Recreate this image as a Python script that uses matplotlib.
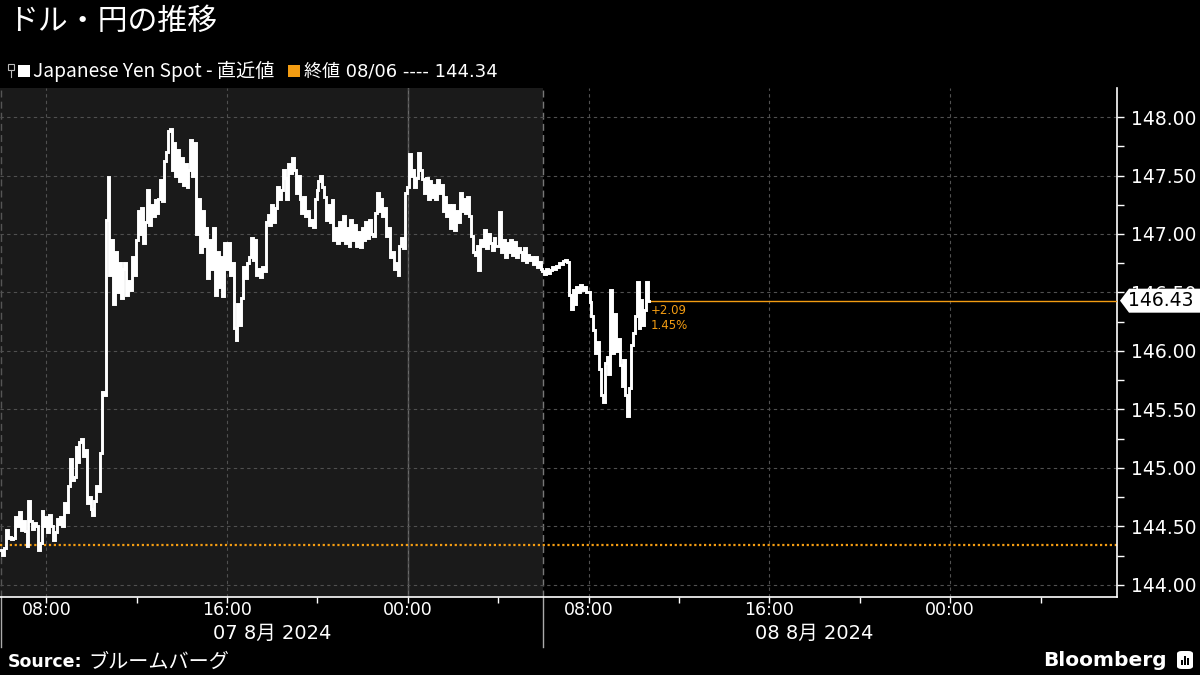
import pandas as pd
import matplotlib
matplotlib.use("Agg")
import matplotlib.pyplot as plt
import matplotlib.dates as mdates
import matplotlib.patches as mpatches
from matplotlib.ticker import MultipleLocator, FormatStrFormatter
from matplotlib.transforms import blended_transform_factory, IdentityTransform

# ── text ──────────────────────────────────────────────────────────────────────
TITLE = "ドル・円の推移"
SERIES_LABEL = "Japanese Yen Spot - 直近値"
CLOSE_LABEL = "終値 08/06 ---- 144.34"
SOURCE = "ブルームバーグ"
DAY_LABELS = ["07 8月 2024", "08 8月 2024"]
CHANGE_TEXT = "+2.09"
PCT_TEXT = "1.45%"

# ── data ──────────────────────────────────────────────────────────────────────
START = "2024-08-07 06:00"
FREQ = "5min"
PREV_CLOSE = 144.34
DAY_STARTS = ["2024-08-07 06:00", "2024-08-08 06:00"]
X_RANGE = ["2024-08-07 05:57", "2024-08-09 07:23"]

# 5-minute USD/JPY readings, one row per hour starting 06:00 on 7 Aug
YEN = [
    144.30, 144.26, 144.32, 144.47, 144.40, 144.41, 144.39, 144.40, 144.58, 144.50, 144.62, 144.47,
    144.55, 144.46, 144.33, 144.72, 144.55, 144.48, 144.53, 144.50, 144.30, 144.36, 144.63, 144.50,
    144.58, 144.45, 144.60, 144.50, 144.38, 144.45, 144.56, 144.52, 144.58, 144.50, 144.70, 144.62,
    144.85, 145.08, 144.90, 144.92, 145.18, 145.05, 145.22, 145.25, 145.10, 145.15, 144.70, 144.75,
    144.65, 144.60, 144.72, 144.85, 144.80, 145.13, 145.65, 145.62, 147.12, 147.49, 146.65, 146.95,
    146.40, 146.85, 146.50, 146.75, 146.45, 146.70, 146.75, 146.48, 146.60, 146.52, 146.80, 146.65,
    146.95, 147.20, 147.00, 147.22, 146.92, 147.10, 147.38, 147.08, 147.25, 147.15, 147.29, 147.18,
    147.30, 147.46, 147.28, 147.62, 147.70, 147.88, 147.90, 147.55, 147.78, 147.50, 147.72, 147.45,
    147.65, 147.42, 147.60, 147.40, 147.55, 147.80, 147.50, 147.78, 147.00, 147.30, 146.85, 147.20,
    146.90, 147.05, 146.62, 146.95, 146.70, 147.05, 146.48, 146.85, 146.55, 146.80, 146.47, 146.92,
    146.70, 146.92, 146.65, 146.75, 146.20, 146.09, 146.40, 146.22, 146.45, 146.72, 146.62, 146.75,
    146.80, 146.97, 146.78, 146.95, 146.65, 146.70, 146.63, 146.72, 146.68, 147.10, 147.16, 147.08,
    147.25, 147.10, 147.22, 147.40, 147.30, 147.38, 147.55, 147.48, 147.30, 147.60, 147.52, 147.65,
    147.55, 147.35, 147.50, 147.30, 147.18, 147.32, 147.15, 147.20, 147.08, 147.12, 147.06, 147.30,
    147.38, 147.45, 147.50, 147.40, 147.32, 147.12, 147.25, 147.10, 147.29, 146.95, 147.05, 146.92,
    147.10, 146.95, 147.15, 146.92, 147.05, 146.90, 147.12, 146.95, 147.08, 146.90, 147.02, 146.89,
    147.05, 146.95, 147.10, 146.97, 147.12, 147.00, 146.98, 147.18, 147.35, 147.20, 147.30, 147.15,
    147.22, 146.98, 147.05, 146.80, 146.85, 146.70, 146.75, 146.65, 146.90, 146.97, 146.88, 147.35,
    147.40, 147.68, 147.50, 147.55, 147.40, 147.48, 147.69, 147.55, 147.47, 147.35, 147.48, 147.30,
    147.45, 147.32, 147.42, 147.30, 147.46, 147.35, 147.42, 147.20, 147.32, 147.15, 147.25, 147.05,
    147.25, 147.03, 147.20, 147.10, 147.35, 147.20, 147.30, 147.18, 147.32, 147.15, 146.98, 146.85,
    146.82, 146.90, 146.69, 146.95, 146.90, 147.03, 146.88, 147.00, 146.92, 146.86, 146.97, 146.90,
    146.90, 147.19, 146.85, 146.95, 146.80, 146.92, 146.85, 146.95, 146.82, 146.93, 146.80, 146.88,
    146.85, 146.78, 146.88, 146.76, 146.82, 146.78, 146.80, 146.74, 146.80, 146.72, 146.76, 146.70,
    146.68, 146.66, 146.70, 146.67, 146.69, 146.72, 146.70, 146.73, 146.72, 146.75, 146.74, 146.77,
    146.78, 146.76, 146.48, 146.36, 146.52, 146.40, 146.55, 146.50, 146.56, 146.52, 146.55, 146.50,
    146.50, 146.42, 146.30, 146.18, 145.98, 146.08, 145.85, 145.62, 145.56, 145.90, 145.95, 145.80,
    146.52, 145.98, 146.32, 146.00, 146.10, 145.88, 145.70, 145.92, 145.62, 145.44, 145.68, 146.05,
    146.15, 146.30, 146.59, 146.20, 146.44, 146.22, 146.35, 146.59, 146.43,
]

# ── style ─────────────────────────────────────────────────────────────────────
BG = "#000000"
SHADE = "#1a1a1a"
ORANGE = "#f39c12"
GRID = "#505050"
CJK = ["Noto Sans CJK JP", "DejaVu Sans"]
NUM = ["DejaVu Sans", "Noto Sans CJK JP"]

plt.rcParams["font.family"] = CJK

times = pd.date_range(START, periods=len(YEN), freq=FREQ)
yen = pd.Series(YEN, index=times)
last = yen.iloc[-1]

fig = plt.figure(figsize=(12, 6.75), dpi=100, facecolor=BG)
ax = fig.add_axes([0.0, 1 - 597 / 675, 1117 / 1200, 509 / 675])
ax.set_facecolor(BG)

x0, x1 = pd.Timestamp(X_RANGE[0]), pd.Timestamp(X_RANGE[1])
d0, d1 = pd.Timestamp(DAY_STARTS[0]), pd.Timestamp(DAY_STARTS[1])
ax.set_xlim(x0, x1)
ax.set_ylim(143.897, 148.248)

# previous-day shading
ax.axvspan(x0, d1, color=SHADE, lw=0, zorder=0)

# grid
ax.yaxis.set_major_locator(MultipleLocator(0.5))
ax.yaxis.set_minor_locator(MultipleLocator(0.25))
ax.xaxis.set_major_locator(mdates.HourLocator(byhour=[0, 8, 16]))
ax.xaxis.set_minor_locator(mdates.HourLocator(byhour=[4, 12, 20]))
ax.xaxis.set_major_formatter(mdates.DateFormatter("%H:%M"))
ax.grid(which="major", color=GRID, lw=0.8, ls=(0, (3, 3)), zorder=1)
ax.axvline(pd.Timestamp("2024-08-08 00:00"), color="#6a6a6a", lw=1.0, zorder=1)
ax.axvline(d1, color="#777777", lw=1.0, ls=(0, (5, 3)), zorder=1)
ax.axvline(d0, color="#555555", lw=1.0, ls=(0, (5, 3)), zorder=1)

# previous close
ax.axhline(PREV_CLOSE, color=ORANGE, lw=1.6, ls=(0, (1, 1.2)), zorder=2)

# price line
ax.plot(yen.index, yen.values, color="white", lw=2.1, zorder=4,
        drawstyle="steps-mid", solid_joinstyle="miter")

# last-value guide and change
ax.hlines(last, yen.index[-1], x1, color=ORANGE, lw=1.0, zorder=3)
ax.annotate(CHANGE_TEXT, xy=(yen.index[-1], last), xytext=(2, -10),
            textcoords="offset pixels", color=ORANGE, fontsize=8.5,
            va="center", ha="left", family=NUM)
ax.annotate(PCT_TEXT, xy=(yen.index[-1], last), xytext=(2, -25),
            textcoords="offset pixels", color=ORANGE, fontsize=8.5,
            va="center", ha="left", family=NUM)

# axes styling
for side in ["top", "left"]:
    ax.spines[side].set_visible(False)
ax.spines["right"].set_color("white")
ax.spines["bottom"].set_color("white")
ax.spines["right"].set_linewidth(1.2)
ax.spines["bottom"].set_linewidth(1.2)
ax.yaxis.tick_right()
ax.yaxis.set_major_formatter(FormatStrFormatter("%.2f"))
ax.tick_params(axis="y", which="both", colors="white", length=5, width=1, pad=5,
               labelsize=13.5)
ax.tick_params(axis="x", which="both", colors="white", length=4, width=1, pad=-1,
               labelsize=12.5)
for lab in ax.get_yticklabels() + ax.get_xticklabels():
    lab.set_family(NUM)

# day labels and separators below the axis
trans = blended_transform_factory(ax.transData, ax.transAxes)
for start, label in zip([d0, d1], DAY_LABELS):
    mid = start + pd.Timedelta(hours=12)
    ax.text(mid, -0.072, label, transform=trans, color="white", fontsize=14,
            ha="center", va="center", family=NUM)
    ax.plot([start, start], [0, -0.098], transform=trans, color="#aaaaaa",
            lw=1.0, clip_on=False)

# last value callout on the right axis
fig.canvas.draw()
_, ypx = ax.transData.transform((mdates.date2num(yen.index[-1]), last))
xr = ax.transAxes.transform((1, 0))[0]
h = 12
verts = [(xr + 3, ypx), (xr + 12, ypx + h), (1200, ypx + h), (1200, ypx - h), (xr + 12, ypx - h)]
ax.add_patch(mpatches.Polygon(verts, closed=True, transform=IdentityTransform(),
                              facecolor="white", edgecolor="none", clip_on=False,
                              zorder=10))
ax.text(1.0 + 11 / 1117, last, f"{last:.2f}",
        transform=blended_transform_factory(ax.transAxes, ax.transData),
        color="black", fontsize=13.5, va="center", ha="left", family=NUM,
        zorder=11, clip_on=False)

# title and legend
fig.text(8 / 1200, 1 - 21 / 675, TITLE, color="white", fontsize=21.5, va="center")
fig.patches.append(mpatches.Rectangle((8 / 1200, 1 - 70 / 675), 6 / 1200, 6 / 675,
                                      transform=fig.transFigure, facecolor="none",
                                      edgecolor="#bbbbbb", lw=0.8))
fig.add_artist(plt.Line2D([11 / 1200, 11 / 1200], [1 - 70 / 675, 1 - 77 / 675],
                          transform=fig.transFigure, color="#bbbbbb", lw=0.8))
fig.patches.append(mpatches.Rectangle((18 / 1200, 1 - 77 / 675), 12 / 1200, 12 / 675,
                                      transform=fig.transFigure, facecolor="white",
                                      edgecolor="none"))
fig.text(33 / 1200, 1 - 71 / 675, SERIES_LABEL, color="white", fontsize=13.8, va="center")
fig.patches.append(mpatches.Rectangle((288 / 1200, 1 - 77 / 675), 12 / 1200, 12 / 675,
                                      transform=fig.transFigure, facecolor=ORANGE,
                                      edgecolor="none"))
fig.text(304 / 1200, 1 - 71 / 675, CLOSE_LABEL, color="white", fontsize=13, va="center",
         family=NUM)

# footer
fig.text(8 / 1200, 1 - 662 / 675, "Source:", color="white", fontsize=12.5,
         fontweight="bold", va="center", family=NUM)
fig.text(88 / 1200, 1 - 662 / 675, SOURCE, color="white", fontsize=14.5, va="center")
fig.text(1167 / 1200, 1 - 660 / 675, "Bloomberg", color="white", fontsize=14.5,
         fontweight="bold", va="center", ha="right", family=NUM)
fig.patches.append(mpatches.FancyBboxPatch((1177 / 1200, 1 - 669 / 675), 16 / 1200, 18 / 675,
                                           boxstyle="round,pad=0,rounding_size=0.004",
                                           transform=fig.transFigure, facecolor="white",
                                           edgecolor="none"))
for bx, bh in [(1181, 5), (1184, 9), (1187, 7)]:
    fig.patches.append(mpatches.Rectangle((bx / 1200, 1 - 665 / 675), 2 / 1200, bh / 675,
                                          transform=fig.transFigure, facecolor="black",
                                          edgecolor="none"))

fig.savefig("out.png", dpi=100, facecolor=BG)
